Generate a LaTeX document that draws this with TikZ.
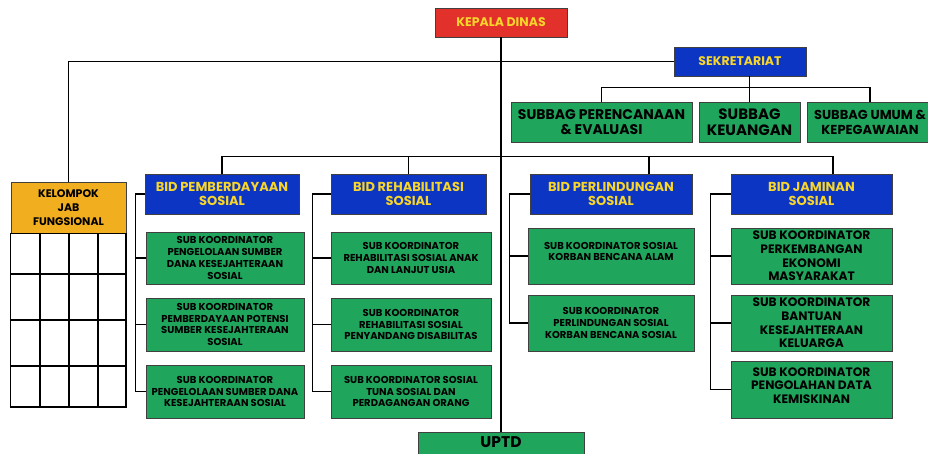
\documentclass[tikz,border=0pt]{standalone}
\usepackage{fontspec}
\setmainfont{Poppins}
\definecolor{kepalared}{HTML}{E2302B}
\definecolor{bidblue}{HTML}{0B35C2}
\definecolor{subgreen}{HTML}{1FA55C}
\definecolor{jabyellow}{HTML}{F1AE1F}
\definecolor{labelyellow}{HTML}{F7D52A}
\tikzset{
  box/.style={draw=black!75, line width=0.9pt, inner sep=1pt, align=center, font=\bfseries},
  redbox/.style={box, fill=kepalared, text=labelyellow, font=\bfseries\fontsize{12.5}{14}\selectfont},
  bluebox/.style={box, fill=bidblue, text=labelyellow, font=\bfseries\fontsize{13}{13.7}\selectfont},
  greenbox/.style={box, fill=subgreen, text=black, font=\bfseries\fontsize{10}{11.7}\selectfont},
  bigbox/.style={greenbox, font=\bfseries\fontsize{12.2}{13.7}\selectfont},
  jabbox/.style={box, fill=jabyellow, text=black, font=\bfseries\fontsize{11}{14}\selectfont},
  link/.style={line width=1.6pt, black}
}
\begin{document}
\begin{tikzpicture}[x=1pt, y=-1pt]
  \useasboundingbox[fill=white] (0,0) rectangle (928,453);
  % pimpinan dan sekretariat
  \node[redbox, minimum width=132, minimum height=29] (kd) at (501,22.5) {KEPALA DINAS};
  \node[bluebox, minimum width=132, minimum height=29, font=\bfseries\fontsize{12.5}{14}\selectfont] (sek) at (740,61.5) {SEKRETARIAT};
  \node[greenbox, minimum width=181, minimum height=40, font=\bfseries\fontsize{14}{15}\selectfont] (sp) at (601.5,122) {SUBBAG PERENCANAAN\\\& EVALUASI};
  \node[greenbox, minimum width=101, minimum height=40, font=\bfseries\fontsize{15}{15.5}\selectfont] (sk) at (749.5,122) {SUBBAG\\KEUANGAN};
  \node[greenbox, minimum width=126, minimum height=40, font=\bfseries\fontsize{13}{15}\selectfont] (su) at (870,122) {SUBBAG UMUM \&\\KEPEGAWAIAN};
  % kelompok jabatan fungsional
  \node[jabbox, minimum width=115, minimum height=51] (kjf) at (68.5,207.5) {KELOMPOK\\JAB\\FUNGSIONAL};
  % bidang
  \node[bluebox, minimum width=154, minimum height=40] (bp) at (222,194) {BID PEMBERDAYAAN\\SOSIAL};
  \node[bluebox, minimum width=155, minimum height=40] (br) at (408.5,194) {BID REHABILITASI\\SOSIAL};
  \node[bluebox, minimum width=162, minimum height=40] (bl) at (611,194) {BID PERLINDUNGAN\\SOSIAL};
  \node[bluebox, minimum width=161, minimum height=40] (bj) at (811.5,194) {BID JAMINAN\\SOSIAL};
  % sub koordinator
  \node[greenbox, minimum width=158, minimum height=52] (bp1) at (225,258) {SUB KOORDINATOR\\PENGELOLAAN SUMBER\\DANA KESEJAHTERAAN\\SOSIAL};
  \node[greenbox, minimum width=158, minimum height=53] (bp2) at (225,324.5) {SUB KOORDINATOR\\PEMBERDAYAAN POTENSI\\SUMBER KESEJAHTERAAN\\SOSIAL};
  \node[greenbox, minimum width=158, minimum height=53] (bp3) at (225,391.5) {SUB KOORDINATOR\\PENGELOLAAN SUMBER DANA\\KESEJAHTERAAN SOSIAL};
  \node[greenbox, minimum width=160, minimum height=52] (br1) at (411,258) {SUB KOORDINATOR\\REHABILITASI SOSIAL ANAK\\DAN LANJUT USIA};
  \node[greenbox, minimum width=160, minimum height=53] (br2) at (411,324.5) {SUB KOORDINATOR\\REHABILITASI SOSIAL\\PENYANDANG DISABILITAS};
  \node[greenbox, minimum width=160, minimum height=53] (br3) at (411,391.5) {SUB KOORDINATOR SOSIAL\\TUNA SOSIAL DAN\\PERDAGANGAN ORANG};
  \node[greenbox, minimum width=166, minimum height=56, text depth=9pt] (bl1) at (611,256) {SUB KOORDINATOR SOSIAL\\KORBAN BENCANA ALAM};
  \node[greenbox, minimum width=166, minimum height=56] (bl2) at (611,323) {SUB KOORDINATOR\\PERLINDUNGAN SOSIAL\\KORBAN BENCANA SOSIAL};
  \node[bigbox, minimum width=161, minimum height=56] (bj1) at (811.5,256) {SUB KOORDINATOR\\PERKEMBANGAN\\EKONOMI\\MASYARAKAT};
  \node[bigbox, minimum width=161, minimum height=56] (bj2) at (811.5,323) {SUB KOORDINATOR\\BANTUAN\\KESEJAHTERAAN\\KELUARGA};
  \node[bigbox, minimum width=161, minimum height=57, text depth=8pt] (bj3) at (811.5,389.5) {SUB KOORDINATOR\\PENGOLAHAN DATA\\KEMISKINAN};
  \node[greenbox, minimum width=166, minimum height=28, font=\bfseries\fontsize{15.5}{17}\selectfont] (uptd) at (501,446) {\raisebox{7pt}{UPTD}};
  % kotak kosong jabatan fungsional
  \draw[link] (kjf.south west) rectangle (126,407);
  \foreach \x in {40,69,98} \draw[link] (\x,233) -- (\x,407);
  \foreach \y in {274,320,366} \draw[link] (11,\y) -- (126,\y);
  % garis
  \begin{scope}[link]
    \draw (kd.south) -- (uptd.north);
    \draw (kjf.north) |- (sek.west);
    \draw (sp.north) -- ++(0,-14) -| (su.north);
    \draw (sk.north) -- (sk.north |- sek.south);
    \draw (bp.north) -- ++(0,-17) -| ([xshift=21.5]bj.north);
    \draw (br.north) -- ++(0,-17);
    \draw ([xshift=38]bl.north) -- ++(0,-17);
    \draw (bp.west) -- ++(-9,0) |- (bp3.west);
    \draw (bp1.west) -- ++(-10,0);
    \draw (bp2.west) -- ++(-10,0);
    \draw (br.west) -- ++(-18,0) |- (br3.west);
    \draw (br1.west) -- ++(-18,0);
    \draw (br2.west) -- ++(-18,0);
    \draw (bl.west) -- ++(-20,0) |- (bl2.west);
    \draw (bl1.west) -- ++(-18,0);
    \draw (bj.west) -- ++(-20,0) |- (bj3.west);
    \draw (bj1.west) -- ++(-20,0);
    \draw (bj2.west) -- ++(-20,0);
  \end{scope}
\end{tikzpicture}
\end{document}
